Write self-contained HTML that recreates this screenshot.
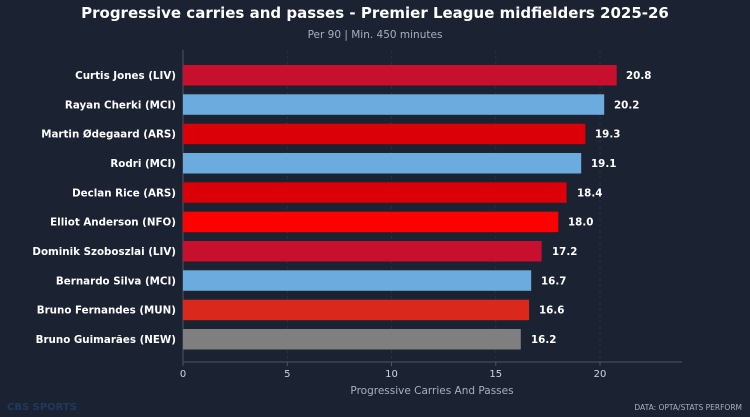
<!DOCTYPE html>
<html><head><style>
body{margin:0;background:#1b2231;}
svg{display:block;font-family:"DejaVu Sans","Liberation Sans",sans-serif;}
</style></head><body>
<svg width="750" height="417" viewBox="0 0 750 417">
<rect width="750" height="417" fill="#1b2231"/>
<text x="375" y="18" text-anchor="middle" fill="#fff" font-size="15" font-weight="bold">Progressive carries and passes - Premier League midfielders 2025-26</text>
<text x="375" y="38" text-anchor="middle" fill="#aab0bb" font-size="10.5">Per 90  |  Min. 450 minutes</text>
<g stroke="#2c3545" stroke-dasharray="3,3" stroke-width="0.8">
<line x1="287.3" y1="50" x2="287.3" y2="362"/><line x1="391.5" y1="50" x2="391.5" y2="362"/>
<line x1="495.8" y1="50" x2="495.8" y2="362"/><line x1="600" y1="50" x2="600" y2="362"/>
</g>
<g stroke="#4a5566" stroke-width="1"><line x1="183" y1="50" x2="183" y2="362"/><line x1="183" y1="362" x2="682" y2="362"/></g>
<g stroke="#4a5566"><line x1="183" y1="362" x2="183" y2="366"/><line x1="287.3" y1="362" x2="287.3" y2="366"/><line x1="391.5" y1="362" x2="391.5" y2="366"/><line x1="495.8" y1="362" x2="495.8" y2="366"/><line x1="600" y1="362" x2="600" y2="366"/></g>
<g fill="#d0d4da" font-size="10" text-anchor="middle">
<text x="183" y="377">0</text><text x="287.3" y="377">5</text><text x="391.5" y="377">10</text><text x="495.8" y="377">15</text><text x="600" y="377">20</text>
</g>
<text x="432" y="394" text-anchor="middle" fill="#aab0bb" font-size="10.5">Progressive Carries And Passes</text>
<g font-size="10.3" font-weight="bold">
<g transform="translate(0,65)"><rect x="183" y="0" width="433.7" height="20.5" fill="#c8102e"/><text x="176" y="14" text-anchor="end" fill="#fff">Curtis Jones (LIV)</text><text x="626" y="14" fill="#fff">20.8</text></g>
<g transform="translate(0,94.3)"><rect x="183" y="0" width="421.2" height="20.5" fill="#6cabdd"/><text x="176" y="14" text-anchor="end" fill="#fff">Rayan Cherki (MCI)</text><text x="614" y="14" fill="#fff">20.2</text></g>
<g transform="translate(0,123.7)"><rect x="183" y="0" width="402.4" height="20.5" fill="#db0007"/><text x="176" y="14" text-anchor="end" fill="#fff">Martin Ødegaard (ARS)</text><text x="595" y="14" fill="#fff">19.3</text></g>
<g transform="translate(0,153)"><rect x="183" y="0" width="398.2" height="20.5" fill="#6cabdd"/><text x="176" y="14" text-anchor="end" fill="#fff">Rodri (MCI)</text><text x="591" y="14" fill="#fff">19.1</text></g>
<g transform="translate(0,182.3)"><rect x="183" y="0" width="383.6" height="20.5" fill="#db0007"/><text x="176" y="14" text-anchor="end" fill="#fff">Declan Rice (ARS)</text><text x="577" y="14" fill="#fff">18.4</text></g>
<g transform="translate(0,211.7)"><rect x="183" y="0" width="375.3" height="20.5" fill="#ff0000"/><text x="176" y="14" text-anchor="end" fill="#fff">Elliot Anderson (NFO)</text><text x="568" y="14" fill="#fff">18.0</text></g>
<g transform="translate(0,241)"><rect x="183" y="0" width="358.6" height="20.5" fill="#c8102e"/><text x="176" y="14" text-anchor="end" fill="#fff">Dominik Szoboszlai (LIV)</text><text x="552" y="14" fill="#fff">17.2</text></g>
<g transform="translate(0,270.3)"><rect x="183" y="0" width="348.2" height="20.5" fill="#6cabdd"/><text x="176" y="14" text-anchor="end" fill="#fff">Bernardo Silva (MCI)</text><text x="541" y="14" fill="#fff">16.7</text></g>
<g transform="translate(0,299.7)"><rect x="183" y="0" width="346.1" height="20.5" fill="#da291c"/><text x="176" y="14" text-anchor="end" fill="#fff">Bruno Fernandes (MUN)</text><text x="539" y="14" fill="#fff">16.6</text></g>
<g transform="translate(0,329)"><rect x="183" y="0" width="337.8" height="20.5" fill="#7f7f7f"/><text x="176" y="14" text-anchor="end" fill="#fff">Bruno Guimarães (NEW)</text><text x="531" y="14" fill="#fff">16.2</text></g>
</g>
<text x="7" y="410" fill="#1f3a5c" font-size="10" font-weight="bold">CBS SPORTS</text>
<text x="742" y="410" text-anchor="end" fill="#aab0bb" font-size="7.5">DATA: OPTA/STATS PERFORM</text>
</svg>
</body></html>
